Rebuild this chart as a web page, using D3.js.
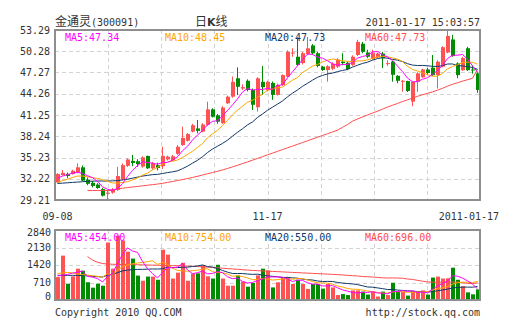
<!DOCTYPE html>
<html>
<head>
<meta charset="utf-8">
<script src="https://cdn.jsdelivr.net/npm/d3@7"></script>
<style>
  html, body { margin: 0; padding: 0; background: #fff; }
  svg { display: block; }
  .mono { font-family: "DejaVu Sans Mono", "Liberation Mono", monospace; font-size: 10px; }
</style>
</head>
<body>
<svg id="chart" width="505" height="330"></svg>
<script>
// 金通灵 (300091) daily K-line, 2010-09-08 .. 2011-01-17
const dates = [
  "2010-09-08","2010-09-09","2010-09-10","2010-09-13","2010-09-14","2010-09-15","2010-09-16","2010-09-17","2010-09-20","2010-09-21",
  "2010-09-27","2010-09-28","2010-09-29","2010-09-30","2010-10-08","2010-10-11","2010-10-12","2010-10-13","2010-10-14","2010-10-15",
  "2010-10-18","2010-10-19","2010-10-20","2010-10-21","2010-10-22","2010-10-25","2010-10-26","2010-10-27","2010-10-28","2010-10-29",
  "2010-11-01","2010-11-02","2010-11-03","2010-11-04","2010-11-05","2010-11-08","2010-11-09","2010-11-10","2010-11-11","2010-11-12",
  "2010-11-15","2010-11-16","2010-11-17","2010-11-18","2010-11-19","2010-11-22","2010-11-23","2010-11-24","2010-11-25","2010-11-26",
  "2010-11-29","2010-11-30","2010-12-01","2010-12-02","2010-12-03","2010-12-06","2010-12-07","2010-12-08","2010-12-09","2010-12-10",
  "2010-12-13","2010-12-14","2010-12-15","2010-12-16","2010-12-17","2010-12-20","2010-12-21","2010-12-22","2010-12-23","2010-12-24",
  "2010-12-27","2010-12-28","2010-12-29","2010-12-30","2010-12-31","2011-01-04","2011-01-05","2011-01-06","2011-01-07","2011-01-10",
  "2011-01-11","2011-01-12","2011-01-13","2011-01-14","2011-01-17"
];

const open = [
  31.7,32.75,32.9,32.9,33.13,33.84,32.1,31.65,31.4,30.75,
  30.1,30.25,30.63,32.15,34.05,34.75,34.7,33.95,35.45,33.7,
  34.15,34.0,34.95,34.8,35.75,37.0,37.6,38.9,39.35,38.9,
  39.85,42.05,41.2,40.1,42.9,43.85,46.45,45.0,46.1,44.8,
  42.35,45.95,44.75,45.8,44.1,45.5,46.7,50.0,49.5,48.6,
  49.9,51.1,50.0,48.1,47.62,47.8,48.1,48.8,48.65,48.35,
  49.75,51.35,50.1,49.2,49.4,49.95,48.5,48.8,46.8,46.0,
  46.05,43.15,45.95,46.6,47.7,47.95,46.9,48.1,50.1,51.95,
  48.55,47.6,50.7,47.7,47.15
];
const high = [
  33.0,33.45,33.1,33.5,34.4,34.1,32.4,31.9,31.6,30.9,
  30.6,30.9,33.9,34.4,35.1,35.6,35.0,35.4,35.5,34.6,
  34.5,36.76,35.5,35.6,37.0,39.6,38.7,40.0,40.54,40.1,
  43.13,42.2,41.4,42.5,44.0,46.7,48.0,45.6,46.3,45.0,
  46.6,48.19,46.1,46.0,45.7,47.0,50.4,50.7,52.25,50.2,
  52.3,51.3,50.2,48.2,48.3,48.7,49.3,50.0,48.8,49.7,
  51.9,51.6,50.5,50.5,50.1,50.2,49.0,48.9,46.9,46.2,
  46.1,46.0,47.3,47.8,47.9,49.75,49.0,51.0,53.2,52.6,
  48.7,49.5,50.9,48.3,47.3
];
const low = [
  31.6,32.7,32.3,32.8,33.0,31.9,31.3,31.0,30.8,29.7,
  29.21,30.1,30.5,32.0,33.9,34.0,33.9,33.8,33.6,33.5,
  33.4,33.6,34.8,34.7,35.6,36.9,37.5,38.8,38.66,38.8,
  39.7,40.9,40.0,40.0,42.8,43.7,44.08,44.8,44.6,41.96,
  41.72,44.08,44.6,43.4,44.0,45.4,46.6,49.5,48.2,48.4,
  49.8,49.8,48.0,47.5,45.97,47.6,47.9,48.3,47.6,48.2,
  49.6,50.0,49.3,49.1,49.3,47.9,48.2,45.97,45.75,44.55,
  44.5,42.5,44.55,46.5,47.0,46.8,45.0,48.0,50.0,49.5,
  46.45,47.5,47.5,47.1,44.4
];
const close = [
  32.9,33.05,32.62,33.35,33.84,31.95,31.5,31.2,30.9,29.82,
  30.25,30.73,32.6,34.15,34.95,34.45,34.3,35.25,33.7,34.4,
  33.75,35.45,35.35,35.4,36.75,38.0,38.55,39.8,39.0,39.9,
  42.05,41.0,40.3,42.3,43.85,45.95,45.25,45.2,44.8,42.7,
  46.45,45.2,45.95,44.1,45.5,46.9,50.2,50.1,48.35,50.0,
  50.7,50.0,48.2,47.62,48.15,48.5,49.1,48.6,47.75,49.5,
  51.6,50.2,49.5,50.0,49.95,49.3,48.6,46.95,46.1,46.1,
  44.65,45.95,47.15,47.7,47.2,46.9,48.8,50.85,52.45,49.6,
  46.9,49.3,47.6,47.6,44.8
];

// price moving averages (null where the average is not yet available)
const ma5 = [
  32.3,32.6,32.8,33.0,33.15,32.96,32.65,32.37,31.88,31.07,
  30.73,30.58,30.86,31.51,32.54,33.38,34.09,34.62,34.53,34.42,
  34.28,34.51,34.53,34.87,35.34,36.19,36.81,37.7,38.42,39.05,
  39.86,40.35,40.45,41.11,41.9,42.68,43.53,44.51,45.01,44.78,
  44.88,44.87,45.02,44.88,45.44,45.53,46.53,47.36,48.21,49.11,
  49.87,49.83,49.45,49.3,48.93,48.49,48.31,48.39,48.42,48.69,
  49.31,49.53,49.71,50.16,50.25,49.79,49.47,48.96,48.18,47.41,
  46.48,45.95,45.99,46.31,46.53,46.98,47.55,48.29,49.24,49.72,
  49.72,49.82,49.17,48.2,47.34
];
const ma10 = [
  31.7,31.95,32.15,32.4,32.6,32.6,32.5,32.4,32.25,32.11,
  31.85,31.62,31.61,31.69,31.81,32.06,32.34,32.74,33.02,33.48,
  33.83,34.3,34.58,34.7,34.88,35.24,35.66,36.12,36.65,37.2,
  38.03,38.58,39.08,39.77,40.48,41.27,41.94,42.48,43.06,43.34,
  43.78,44.2,44.77,44.95,45.11,45.21,45.7,46.19,46.55,47.28,
  47.7,48.18,48.41,48.76,49.02,49.18,49.07,48.92,48.86,48.81,
  48.9,48.92,49.05,49.29,49.47,49.55,49.5,49.34,49.17,48.83,
  48.14,47.71,47.48,47.25,46.97,46.73,46.75,47.14,47.78,48.13,
  48.35,48.69,48.73,48.72,48.45
];
const ma20 = [
  31.55,31.6,31.65,31.7,31.75,31.8,31.85,31.88,31.9,31.9,
  31.9,31.92,31.95,32.05,32.15,32.3,32.45,32.6,32.7,32.8,
  32.84,32.96,33.09,33.2,33.34,33.65,34.0,34.43,34.83,35.34,
  35.93,36.44,36.83,37.23,37.68,38.25,38.8,39.3,39.85,40.27,
  40.9,41.39,41.92,42.36,42.79,43.24,43.82,44.34,44.8,45.31,
  45.74,46.19,46.59,46.85,47.07,47.19,47.39,47.56,47.7,48.04,
  48.3,48.55,48.73,49.02,49.25,49.37,49.29,49.13,49.02,48.82,
  48.52,48.32,48.26,48.27,48.22,48.14,48.13,48.24,48.47,48.48,
  48.24,48.2,48.1,47.98,47.73
];
const ma60 = [
  null,null,null,null,null,null,30.55,30.55,30.55,30.55,
  30.55,30.55,30.8,30.88,30.97,31.05,31.13,31.22,31.3,31.38,
  31.47,31.57,31.7,31.83,31.97,32.1,32.25,32.4,32.57,32.75,
  32.93,33.1,33.28,33.47,33.67,33.9,34.13,34.37,34.6,34.85,
  35.1,35.35,35.6,35.85,36.1,36.35,36.6,36.85,37.1,37.35,
  37.6,37.85,38.1,38.35,38.6,38.85,39.1,39.5,39.9,40.37,
  40.68,40.97,41.25,41.53,41.79,42.08,42.37,42.63,42.88,43.16,
  43.4,43.65,43.89,44.12,44.32,44.53,44.77,45.03,45.34,45.6,
  45.82,46.05,46.25,46.45,47.73
];

// volume (hands) and its moving averages
const volume = [
  930,1800,660,960,1270,1190,720,500,660,580,
  2330,1270,2610,2410,1960,1680,990,780,950,950,
  820,2040,1840,870,1110,1510,780,1070,1080,1410,
  960,870,1430,870,580,580,990,750,540,690,
  1000,1270,1200,510,720,930,930,650,820,650,
  450,650,650,460,650,510,200,240,200,390,
  390,340,220,340,140,340,200,700,340,340,
  180,340,340,390,220,910,950,870,880,1310,
  820,560,310,230,430
];
const vma5 = [
  980,1000,1040,1090,1124,1176,960,928,868,730,
  958,1068,1490,1840,2116,1986,1930,1564,1272,1070,
  898,1108,1320,1304,1336,1474,1222,1068,1110,1170,
  1060,1078,1150,1108,942,866,890,754,688,710,
  794,850,940,934,940,926,858,748,810,796,
  700,644,644,572,572,584,494,412,360,308,
  284,312,308,336,286,276,248,344,344,384,
  352,380,308,318,294,440,562,668,766,984,
  966,888,776,646,454
];
const vma10 = [
  1070,1100,1120,1100,1060,1030,1010,990,960,927,
  1067,1014,1209,1354,1423,1472,1499,1527,1556,1593,
  1442,1519,1442,1288,1203,1186,1165,1194,1207,1253,
  1267,1150,1109,1109,1056,963,984,952,898,826,
  830,870,847,811,825,860,854,844,872,868,
  813,751,696,691,684,642,569,528,466,440,
  434,403,360,348,297,280,280,326,340,335,
  314,314,326,331,339,396,471,488,542,639,
  703,725,722,706,754
];
const vma20 = [
  1000,1000,1000,1000,1000,990,980,960,945,935,
  1000,1040,1110,1180,1215,1230,1240,1245,1250,1260,
  1255,1267,1326,1321,1313,1329,1332,1361,1382,1423,
  1355,1335,1276,1199,1130,1075,1075,1073,1053,1040,
  1049,1010,978,960,941,912,919,898,885,847,
  822,811,772,751,755,751,712,686,669,654,
  624,577,528,520,491,461,425,427,403,388,
  374,359,343,340,318,338,376,407,441,487,
  509,520,524,519,550
];
const vma60 = [
  null,null,null,null,null,null,1760,1620,1530,1480,
  1460,1450,1445,1440,1440,1435,1430,1425,1420,1415,
  1410,1405,1400,1395,1390,1385,1375,1365,1355,1345,
  1335,1320,1305,1290,1275,1260,1245,1230,1215,1200,
  1190,1180,1170,1160,1150,1140,1130,1120,1110,1100,
  1090,1080,1070,1060,1050,1040,1030,1015,1000,985,
  976,951,944,934,915,901,892,895,890,886,
  850,835,797,763,734,721,721,722,721,727,
  727,702,677,666,696
];

const priceTicks = [53.29, 50.28, 47.27, 44.26, 41.25, 38.24, 35.23, 32.22, 29.21];
const volumeTicks = [2840, 2130, 1420, 710, 0];
const dateTicks = ["2010-09-08", "2010-11-17", "2011-01-17"];
const dateTickLabels = ["09-08", "11-17", "2011-01-17"];

const stockName = "金通灵";
const stockCode = "(300091)";
const timestamp = "2011-01-17 15:03:57";

// ---------------------------------------------------------------
const UP = "#ff5252", DOWN = "#008c00";
const C_MA5 = "#ff00ff", C_MA10 = "#ffa500", C_MA20 = "#0f3868", C_MA60 = "#ff4d4d";
const GRID = "#d3d3d3", FRAME = "#8e8e8e", TEXT = "#333";

const svg = d3.select("#chart");
const L = 55, R = 480;
const pTop = 30, pBottom = 200;
const vTop = 230, vBottom = 300;

const x = d3.scaleBand().domain(dates).range([L, R]).paddingInner(0.2).paddingOuter(0.1);
const bw = x.bandwidth();
const cx = d => x(d) + bw / 2;
const y = d3.scaleLinear().domain([priceTicks[priceTicks.length - 1], priceTicks[0]]).range([pBottom, pTop]);
const yv = d3.scaleLinear().domain([0, volumeTicks[0]]).range([vBottom, vTop]);
const col = d3.scaleLinear().domain([0, 8]).range([L, R]);

function drawGrid(g, ys, top, bottom) {
  g.selectAll("line.h").data(ys).join("line")
    .attr("x1", L).attr("x2", R)
    .attr("y1", d => Math.round(d) + 0.5).attr("y2", d => Math.round(d) + 0.5)
    .attr("stroke", GRID).attr("stroke-dasharray", "4,3");
  g.selectAll("line.v").data(d3.range(1, 8)).join("line")
    .attr("x1", d => Math.round(col(d)) + 0.5).attr("x2", d => Math.round(col(d)) + 0.5)
    .attr("y1", top).attr("y2", bottom)
    .attr("stroke", GRID).attr("stroke-dasharray", "4,3");
}

// ---------- header ----------
const title = svg.append("text").attr("x", 55).attr("y", 26).attr("fill", TEXT);
title.append("tspan").attr("font-family", "'Noto Sans CJK SC', sans-serif").attr("font-size", 12).text(stockName);
title.append("tspan").attr("class", "mono").text(stockCode);

const kTitle = svg.append("text").attr("x", 195).attr("y", 26).attr("fill", TEXT)
  .attr("font-family", "'Noto Sans CJK SC', sans-serif").attr("font-size", 12);
kTitle.append("tspan").text("日");
kTitle.append("tspan").attr("font-weight", "bold").attr("font-family", "'DejaVu Sans', sans-serif").attr("font-size", 11).text("K");
kTitle.append("tspan").text("线");

svg.append("text").attr("class", "mono").attr("x", 480).attr("y", 26)
  .attr("text-anchor", "end").attr("fill", TEXT).text(timestamp);

// ---------- price panel ----------
const gp = svg.append("g");
drawGrid(gp.append("g"), priceTicks.slice(1, -1).map(y), pTop, pBottom);

const candles = gp.append("g").selectAll("g").data(dates).join("g")
  .attr("fill", (d, i) => close[i] >= open[i] ? UP : DOWN)
  .attr("stroke", (d, i) => close[i] >= open[i] ? UP : DOWN);
candles.append("line")
  .attr("x1", d => Math.floor(cx(d)) + 0.5).attr("x2", d => Math.floor(cx(d)) + 0.5)
  .attr("y1", (d, i) => y(high[i])).attr("y2", (d, i) => y(low[i]));
candles.append("rect")
  .attr("stroke", "none")
  .attr("x", d => Math.round(x(d))).attr("width", bw)
  .attr("y", (d, i) => y(Math.max(open[i], close[i])))
  .attr("height", (d, i) => Math.max(1, Math.abs(y(open[i]) - y(close[i]))));

function maLine(g, values, yScale, color) {
  const line = d3.line()
    .defined(d => d != null)
    .x((d, i) => cx(dates[i]))
    .y(d => yScale(d));
  g.append("path").datum(values).attr("d", line)
    .attr("fill", "none").attr("stroke", color).attr("stroke-width", 1);
}
const gl = gp.append("g");
maLine(gl, ma60, y, C_MA60);
maLine(gl, ma20, y, C_MA20);
maLine(gl, ma10, y, C_MA10);
maLine(gl, ma5, y, C_MA5);

gp.append("rect").attr("x", L).attr("y", pTop).attr("width", R - L).attr("height", pBottom - pTop)
  .attr("fill", "none").attr("stroke", FRAME).attr("stroke-width", 2);

const yAxis = d3.axisLeft(y).tickValues(priceTicks).tickSize(0).tickPadding(0).tickFormat(d3.format(".2f"));
const ya = svg.append("g").attr("transform", "translate(50,0)").call(yAxis);
ya.select(".domain").remove();
ya.selectAll("text").attr("class", "mono").attr("fill", TEXT).attr("font-family", null).attr("font-size", null);

const f2 = d3.format(".2f");
const legend = [
  ["MA5", ma5, C_MA5], ["MA10", ma10, C_MA10], ["MA20", ma20, C_MA20], ["MA60", ma60, C_MA60]
];
svg.append("g").selectAll("text").data(legend).join("text")
  .attr("class", "mono")
  .attr("x", (d, i) => 65 + i * 100).attr("y", 41)
  .attr("fill", d => d[2])
  .text(d => d[0] + ":" + f2(d[1][d[1].length - 1]));

// ---------- date labels ----------
svg.append("g").selectAll("text").data(dateTicks).join("text")
  .attr("class", "mono").attr("fill", TEXT).attr("y", 220)
  .attr("x", (d, i) => i === dateTicks.length - 1 ? 499 : cx(d))
  .attr("text-anchor", (d, i) => i === dateTicks.length - 1 ? "end" : "middle")
  .text((d, i) => dateTickLabels[i]);

// ---------- volume panel ----------
const gv = svg.append("g");
drawGrid(gv.append("g"), volumeTicks.slice(1, -1).map(yv), vTop, vBottom);

gv.append("g").selectAll("rect").data(dates).join("rect")
  .attr("x", d => Math.round(x(d))).attr("width", bw)
  .attr("y", (d, i) => yv(volume[i]))
  .attr("height", (d, i) => yv(0) - yv(volume[i]))
  .attr("fill", (d, i) => close[i] >= open[i] ? UP : DOWN);

const gvl = gv.append("g");
maLine(gvl, vma60, yv, C_MA60);
maLine(gvl, vma20, yv, C_MA20);
maLine(gvl, vma10, yv, C_MA10);
maLine(gvl, vma5, yv, C_MA5);

gv.append("rect").attr("x", L).attr("y", vTop).attr("width", R - L).attr("height", vBottom - vTop)
  .attr("fill", "none").attr("stroke", FRAME).attr("stroke-width", 2);

const vAxis = d3.axisLeft(yv).tickValues(volumeTicks).tickSize(0).tickPadding(0).tickFormat(d3.format("d"));
const va = svg.append("g").attr("transform", "translate(51,0)").call(vAxis);
va.select(".domain").remove();
va.selectAll(".tick").attr("transform", d => `translate(0,${Math.min(vBottom - 3, Math.max(vTop + 3, yv(d)))})`);
va.selectAll("text").attr("class", "mono").attr("fill", TEXT).attr("font-family", null).attr("font-size", null);

const vLegend = [
  ["MA5", vma5, C_MA5], ["MA10", vma10, C_MA10], ["MA20", vma20, C_MA20], ["MA60", vma60, C_MA60]
];
svg.append("g").selectAll("text").data(vLegend).join("text")
  .attr("class", "mono")
  .attr("x", (d, i) => 65 + i * 100).attr("y", 241)
  .attr("fill", d => d[2])
  .text(d => d[0] + ":" + f2(d[1][d[1].length - 1]));

// ---------- footer ----------
svg.append("text").attr("class", "mono").attr("x", 55).attr("y", 316).attr("fill", TEXT)
  .text("Copyright 2010 QQ.COM");
svg.append("text").attr("class", "mono").attr("x", 480).attr("y", 316).attr("fill", TEXT)
  .attr("text-anchor", "end").text("http://stock.qq.com");
</script>
</body>
</html>
